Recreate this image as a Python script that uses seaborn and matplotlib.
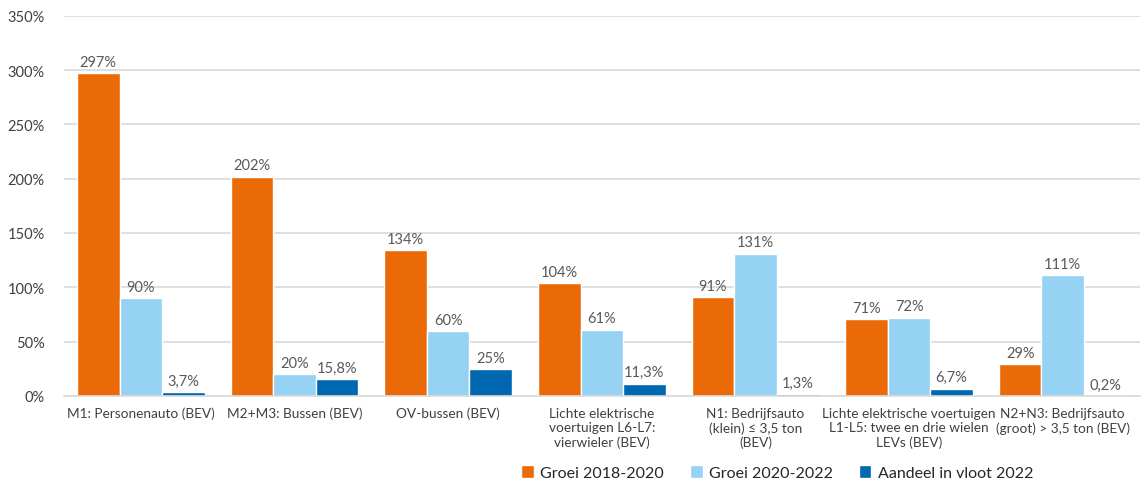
import numpy as np
import pandas as pd
import matplotlib.pyplot as plt
import seaborn as sns
from matplotlib.patches import Patch

# ── DATA ────────────────────────────────────────────────────
categories = [
    'M1: Personenauto (BEV)',
    'M2+M3: Bussen (BEV)',
    'OV-bussen (BEV)',
    'Lichte elektrische\nvoertuigen L6-L7:\nvierwieler (BEV)',
    'N1: Bedrijfsauto\n(klein) ≤ 3,5 ton\n(BEV)',
    'Lichte elektrische voertuigen\nL1-L5: twee en drie wielen\nLEVs (BEV)',
    'N2+N3: Bedrijfsauto\n(groot) > 3,5 ton (BEV)',
]
series = ['Groei 2018-2020', 'Groei 2020-2022', 'Aandeel in vloot 2022']
groei_2018_2020 = [297, 202, 134, 104, 91, 71, 29]
groei_2020_2022 = [90, 20, 60, 61, 131, 72, 111]
aandeel_2022 = [3.7, 15.8, 25, 11.3, 1.3, 6.7, 0.2]
y_ticks = [0, 50, 100, 150, 200, 250, 300, 350]

colors = ['#EA6A08', '#95D2F3', '#0067B1']

rows = []
for s, vals in zip(series, [groei_2018_2020, groei_2020_2022, aandeel_2022]):
    for c, v in zip(categories, vals):
        rows.append({'categorie': c, 'reeks': s, 'waarde': v})
df = pd.DataFrame(rows)

# ── PLOT ────────────────────────────────────────────────────
sns.set_style('white')
plt.rcParams['font.family'] = ['Lato', 'DejaVu Sans']

fig, ax = plt.subplots(figsize=(11.43, 4.81), dpi=100)
fig.subplots_adjust(left=0.056, right=0.997, bottom=0.175, top=0.965)

sns.barplot(data=df, x='categorie', y='waarde', hue='reeks',
            palette=colors, width=0.83, saturation=1, ax=ax, legend=False)

def fmt(v):
    if float(v).is_integer():
        return f'{int(v)}%'
    return f'{v:.1f}%'.replace('.', ',')

for cont in ax.containers:
    ax.bar_label(cont, labels=[fmt(b.get_height()) for b in cont],
                 padding=3, fontsize=10.5, color='#595959')

ax.set_ylim(0, 350)
ax.set_yticks(y_ticks)
ax.set_yticklabels([f'{t}%' for t in y_ticks], fontsize=10.5, color='#404040')
ax.tick_params(axis='x', labelsize=9.8, labelcolor='#404040', length=0, pad=8)
ax.tick_params(axis='y', length=0, pad=14)
ax.yaxis.grid(True, color='#D9D9D9', linewidth=1.2)
ax.set_axisbelow(True)
ax.set_xlabel('')
ax.set_ylabel('')
for side in ['top', 'right', 'left']:
    ax.spines[side].set_visible(False)
ax.spines['bottom'].set_color('#D9D9D9')
ax.spines['bottom'].set_linewidth(1.2)
ax.set_xlim(-0.5, len(categories) - 0.5)

handles = [Patch(facecolor=c, label=s) for c, s in zip(colors, series)]
fig.legend(handles=handles, loc='lower center', bbox_to_anchor=(0.68, -0.03),
           ncol=3, frameon=False, fontsize=11.5, handlelength=0.8,
           handleheight=0.8, columnspacing=1.6, handletextpad=0.4,
           labelcolor='#262626')

plt.savefig('out.png', dpi=100)
